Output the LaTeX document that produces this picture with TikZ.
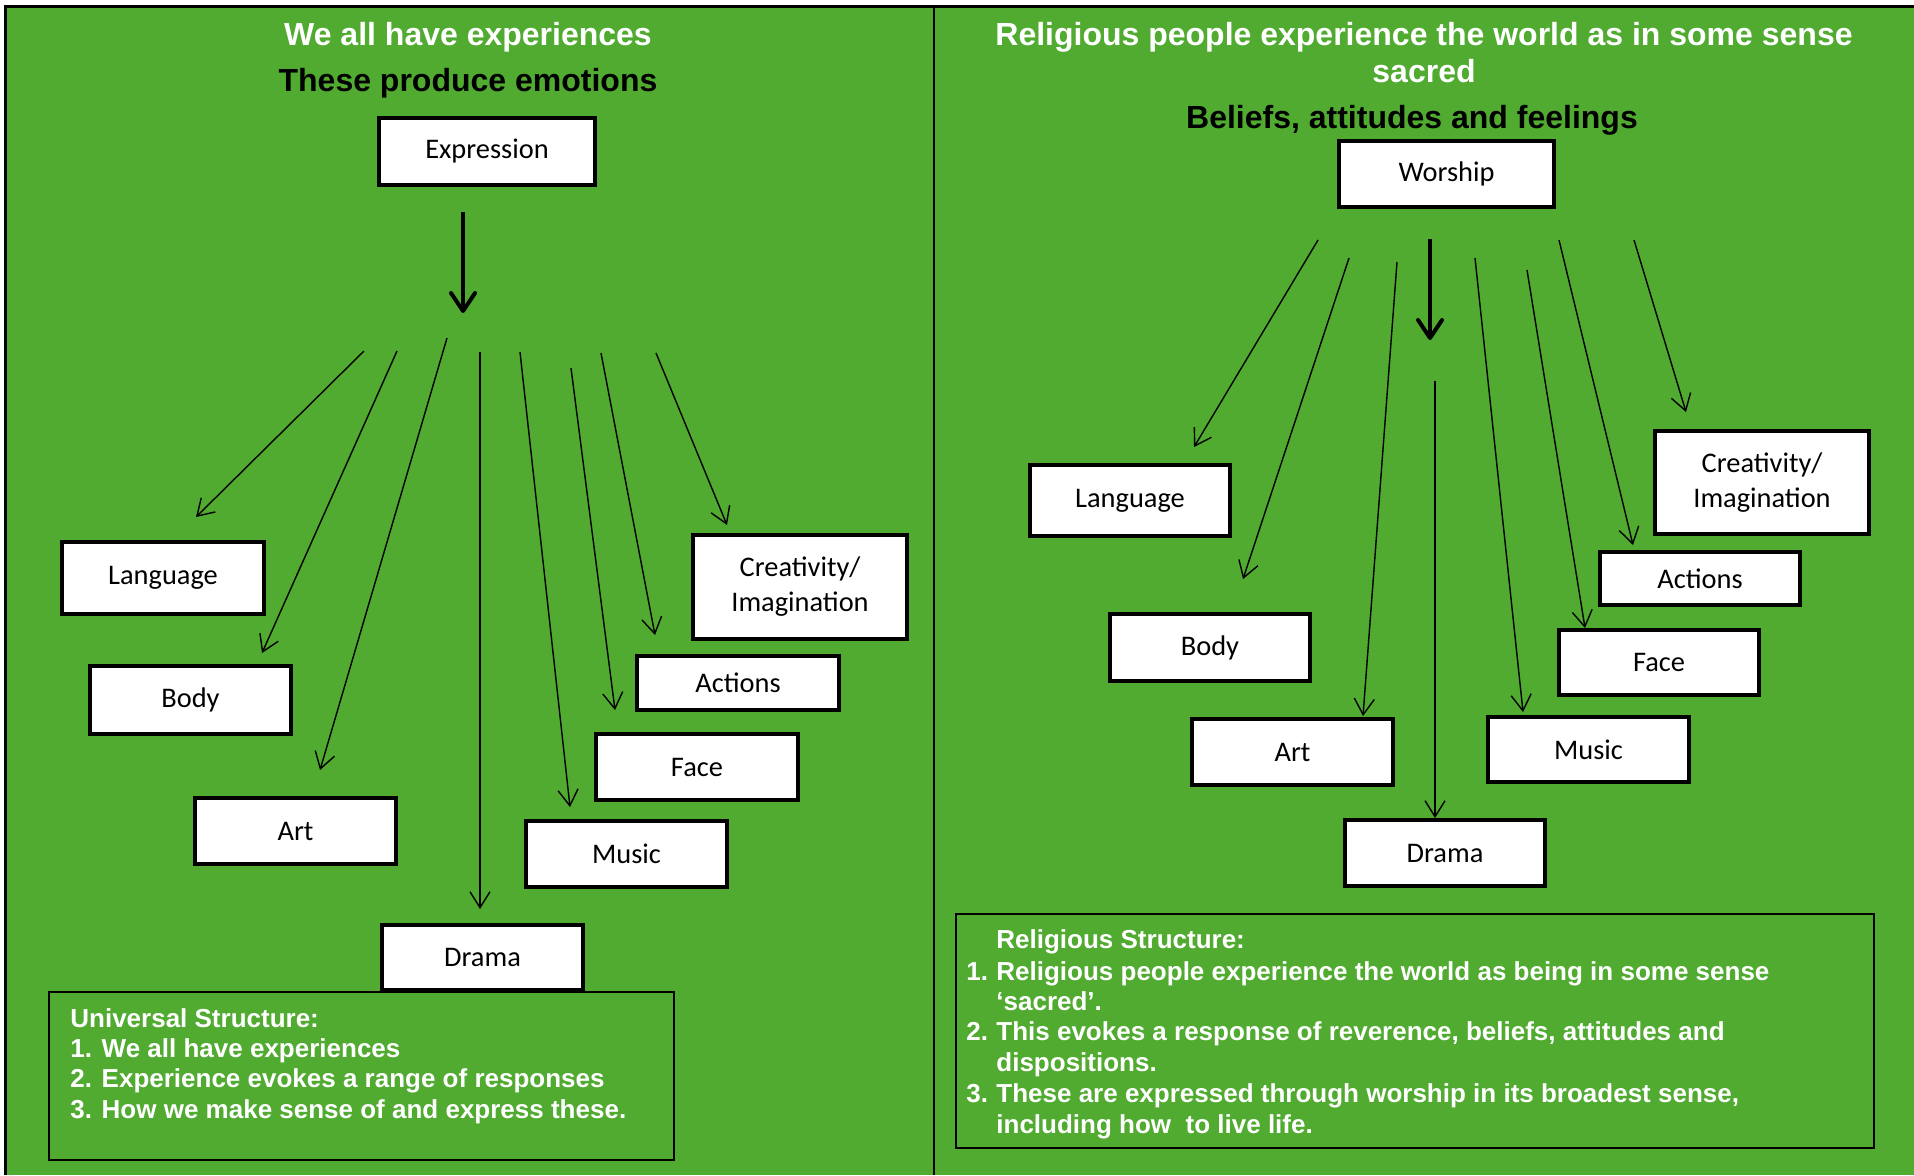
\documentclass[tikz,border=0pt]{standalone}
\usepackage{fontspec}
\setmainfont{Carlito}
\newfontfamily\arialf{Liberation Sans}
\usetikzlibrary{arrows.meta}
\definecolor{bg}{RGB}{80,171,48}
\newcommand\mybox[6]{\node[box, minimum width={(#4-#2-4)*0.5pt}, minimum height={(#5-#3-4)*0.5pt}] (#1) at ({(#2+#4)/2},{(#3+#5)/2}) {#6};}
\newcommand\myarrow[6]{\coordinate (#1s) at (#2,#3); \coordinate (#1e) at (#4,#5); \draw[#6] (#1s) -- (#1e);}
\begin{document}
\begin{tikzpicture}[x=0.5pt,y=-0.5pt,
 box/.style={draw=black, line width=2pt, fill=white, inner sep=0pt, font=\fontsize{14.2}{17.5}\selectfont, align=center},
 thinarrow/.style={draw=black, line width=0.7pt, -{Straight Barb[length=8pt,width=10pt]}},
 thickarrow/.style={draw=black, line width=2pt, -{Straight Barb[length=9pt,width=12pt,line cap=round,line join=round]}},
 title/.style={font=\arialf\bfseries\fontsize{16}{19}\selectfont, anchor=base, inner sep=0pt},
 bodytext/.style={font=\arialf\bfseries\fontsize{13}{15}\selectfont, text=white, anchor=base west, inner sep=0pt},
 framebox/.style={draw=black, line width=1pt, inner sep=0pt}
]
\useasboundingbox (0,0) rectangle (1914,1175);
\fill[white] (0,0) rectangle (1914,1175);
\fill[bg] (5,6) rectangle (1914,1175);
\draw[line width=1.5pt] (5,1175) -- (5,6) -- (1914,6);
\draw[line width=1pt] (934,6) -- (934,1175);

% titles
\node[title, text=white] (t1) at (468,45) {We all have experiences};
\node[title, text=black] (t2) at (468,91) {These produce emotions};
\node[title, text=white] (t3) at (1424,45) {Religious people experience the world as in some sense};
\node[title, text=white] (t4) at (1424,82) {sacred};
\node[title, text=black] (t5) at (1412,128) {Beliefs, attitudes and feelings};

% text frames
\node[framebox, minimum width={(674-49)*0.5pt}, minimum height={(1160-992)*0.5pt}] (uframe) at ({(49+674)/2},{(992+1160)/2}) {};
\node[framebox, minimum width={(1874-956)*0.5pt}, minimum height={(1148-914)*0.5pt}] (rframe) at ({(956+1874)/2},{(914+1148)/2}) {};

% left boxes
\mybox{expr}{377}{116}{597}{187}{Expression}
\mybox{llang}{60}{540}{266}{616}{Language}
\mybox{lbody}{88}{664}{293}{736}{Body}
\mybox{lart}{193}{796}{398}{866}{Art}
\mybox{ldrama}{380}{923}{585}{992}{Drama}
\mybox{lmusic}{524}{819}{729}{889}{Music}
\mybox{lface}{594}{732}{800}{802}{Face}
\mybox{lact}{635}{654}{841}{712}{Actions}
\mybox{lcrea}{691}{533}{909}{641}{Creativity/\\Imagination}

% right boxes
\mybox{wor}{1337}{139}{1556}{209}{Worship}
\mybox{rlang}{1028}{463}{1232}{538}{Language}
\mybox{rbody}{1108}{612}{1312}{683}{Body}
\mybox{rart}{1190}{717}{1395}{787}{Art}
\mybox{rdrama}{1343}{818}{1547}{888}{Drama}
\mybox{rmusic}{1486}{715}{1691}{784}{Music}
\mybox{rface}{1557}{628}{1761}{697}{Face}
\mybox{ract}{1598}{550}{1802}{607}{Actions}
\mybox{rcrea}{1653}{429}{1871}{536}{Creativity/\\Imagination}

% left arrows
\myarrow{lk}{463}{212}{463}{313}{thickarrow}
\myarrow{la}{364}{351}{196}{517}{thinarrow}
\myarrow{lb}{397}{351}{262}{653}{thinarrow}
\myarrow{lc}{447}{338}{320}{770}{thinarrow}
\myarrow{ld}{480}{352}{480}{909}{thinarrow}
\myarrow{le}{520}{352}{570}{807}{thinarrow}
\myarrow{lf}{571}{368}{615}{710}{thinarrow}
\myarrow{lg}{601}{353}{655}{635}{thinarrow}
\myarrow{lh}{656}{353}{727}{525}{thinarrow}

% right arrows
\myarrow{rk}{1430}{239}{1430}{340}{thickarrow}
\myarrow{ra}{1318}{240}{1194}{447}{thinarrow}
\myarrow{rb}{1349}{258}{1243}{579}{thinarrow}
\myarrow{rc}{1397}{262}{1363}{716}{thinarrow}
\myarrow{rd}{1435}{381}{1435}{818}{thinarrow}
\myarrow{re}{1475}{258}{1523}{712}{thinarrow}
\myarrow{rf}{1527}{270}{1585}{628}{thinarrow}
\myarrow{rg}{1559}{240}{1633}{545}{thinarrow}
\myarrow{rh}{1634}{240}{1686}{412}{thinarrow}

% left text
\node[bodytext] (u0) at (70,1027) {Universal Structure:};
\node[bodytext] (u1) at (70,1057) {1. We all have experiences};
\node[bodytext] (u2) at (70,1087) {2. Experience evokes a range of responses};
\node[bodytext] (u3) at (70,1118) {3. How we make sense of and express these.};

% right text
\node[bodytext] (r0) at (996,948) {Religious Structure:};
\node[bodytext] (r1n) at (966,980) {1.};
\node[bodytext] (r1) at (996,980) {Religious people experience the world as being in some sense};
\node[bodytext] (r1b) at (996,1010) {‘sacred’.};
\node[bodytext] (r2n) at (966,1040) {2.};
\node[bodytext] (r2) at (996,1040) {This evokes a response of reverence, beliefs, attitudes and};
\node[bodytext] (r2b) at (996,1071) {dispositions.};
\node[bodytext] (r3n) at (966,1102) {3.};
\node[bodytext] (r3) at (996,1102) {These are expressed through worship in its broadest sense,};
\node[bodytext] (r3b) at (996,1133) {including how\ \ to live life.};
\end{tikzpicture}
\end{document}
